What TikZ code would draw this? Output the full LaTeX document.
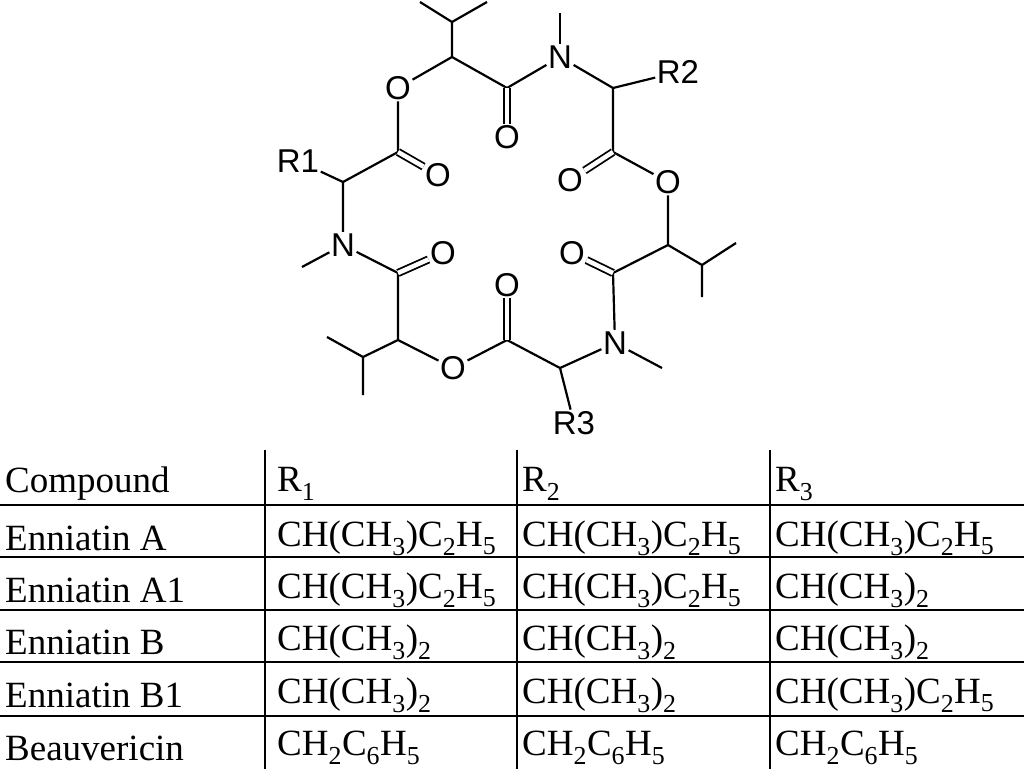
\documentclass[tikz,border=0pt]{standalone}
\usepackage{fontspec}
\setmainfont{Liberation Serif}
\newfontfamily\molfont{Liberation Sans}
\begin{document}
\begin{tikzpicture}[x=1pt,y=-1pt,
  atom/.style={font=\molfont\fontsize{33}{33}\selectfont,inner sep=1.5pt},
  bond/.style={line width=2.2pt},
  dbl/.style={line width=1.8pt,double,double distance=4.5pt},
  cell/.style={font=\fontsize{37}{37}\selectfont,anchor=west,inner sep=0pt},
  grid/.style={line width=1.3pt}]
\useasboundingbox (0,0) rectangle (1024,769);
% carbons
\coordinate (ca1) at (343,182);
\coordinate (ce1) at (398,152);
\coordinate (cat) at (452,57);
\coordinate (cit) at (452,22);
\coordinate (cam1) at (507,88);
\coordinate (ca2) at (613,88);
\coordinate (ce2) at (613,152);
\coordinate (car) at (668,245);
\coordinate (cir) at (702,265);
\coordinate (cam2) at (613,273);
\coordinate (ca3) at (560,368);
\coordinate (ce3) at (507,340);
\coordinate (cab) at (398,340);
\coordinate (cib) at (363,357);
\coordinate (cam3) at (398,273);
% methyl tips
\coordinate (m1) at (420,2);
\coordinate (m2) at (487,2);
\coordinate (m3) at (560,13);
\coordinate (m4) at (736,243);
\coordinate (m5) at (702,297);
\coordinate (m6) at (662,368);
\coordinate (m7) at (327,337);
\coordinate (m8) at (363,395);
\coordinate (m9) at (302,267);
% heteroatoms
\node[atom] (o1) at (398,88) {O};
\node[atom] (ok1) at (507,137) {O};
\node[atom] (n1) at (560,57) {N};
\node[atom] (r2) at (678,72) {R2};
\node[atom] (ok2) at (570,180) {O};
\node[atom] (o2) at (668,182) {O};
\node[atom] (ok3) at (572,253) {O};
\node[atom] (n2) at (615,343) {N};
\node[atom] (r3) at (574,423) {R3};
\node[atom] (ok4) at (507,285) {O};
\node[atom] (o3) at (453,368) {O};
\node[atom] (ok5) at (443,253) {O};
\node[atom] (n3) at (343,245) {N};
\node[atom] (r1) at (298,161) {R1};
\node[atom] (ok6) at (438,175) {O};
% ring bonds
\draw[bond] (ca1) -- (ce1) -- (o1) -- (cat) -- (cam1) -- (n1) -- (ca2) -- (ce2) -- (o2) -- (car) -- (cam2) -- (n2) -- (ca3) -- (ce3) -- (o3) -- (cab) -- (cam3) -- (n3) -- (ca1);
% substituents
\draw[bond] (cat) -- (cit) (m1) -- (cit) -- (m2);
\draw[bond] (n1) -- (m3);
\draw[bond] (ca2) -- (r2);
\draw[bond] (car) -- (cir) (m4) -- (cir) -- (m5);
\draw[bond] (n2) -- (m6);
\draw[bond] (ca3) -- (r3);
\draw[bond] (cab) -- (cib) (m7) -- (cib) -- (m8);
\draw[bond] (n3) -- (m9);
\draw[bond] (ca1) -- (r1);
% carbonyls
\draw[dbl] (cam1) -- (ok1);
\draw[dbl] (ce2) -- (ok2);
\draw[dbl] (cam2) -- (ok3);
\draw[dbl] (ce3) -- (ok4);
\draw[dbl] (cam3) -- (ok5);
\draw[dbl] (ce1) -- (ok6);
% table
\coordinate (v1t) at (265,450); \coordinate (v1b) at (265,769);
\coordinate (v2t) at (517,450); \coordinate (v2b) at (517,769);
\coordinate (v3t) at (770,450); \coordinate (v3b) at (770,769);
\draw[grid] (v1t) -- (v1b) (v2t) -- (v2b) (v3t) -- (v3b);
\foreach \y/\n in {505/a,557/b,610/c,662/d,716/e}{
  \coordinate (hl\n) at (0,\y); \coordinate (hr\n) at (1024,\y);
  \draw[grid] (hl\n) -- (hr\n);}
\node[cell] (h0) at (5,484) {Compound};
\node[cell] (h1) at (277,484) {R\textsubscript{1}};
\node[cell] (h2) at (522,484) {R\textsubscript{2}};
\node[cell] (h3) at (775,484) {R\textsubscript{3}};
\newcommand{\chA}{CH(CH\textsubscript{3})C\textsubscript{2}H\textsubscript{5}}
\newcommand{\chB}{CH(CH\textsubscript{3})\textsubscript{2}}
\newcommand{\chC}{CH\textsubscript{2}C\textsubscript{6}H\textsubscript{5}}
\node[cell] (a0) at (5,538) {Enniatin A};
\node[cell] (a1) at (277,538) {\chA};
\node[cell] (a2) at (522,538) {\chA};
\node[cell] (a3) at (775,538) {\chA};
\node[cell] (b0) at (5,590) {Enniatin A1};
\node[cell] (b1) at (277,590) {\chA};
\node[cell] (b2) at (522,590) {\chA};
\node[cell] (b3) at (775,590) {\chB};
\node[cell] (c0) at (5,642) {Enniatin B};
\node[cell] (c1) at (277,642) {\chB};
\node[cell] (c2) at (522,642) {\chB};
\node[cell] (c3) at (775,642) {\chB};
\node[cell] (d0) at (5,695) {Enniatin B1};
\node[cell] (d1) at (277,695) {\chB};
\node[cell] (d2) at (522,695) {\chB};
\node[cell] (d3) at (775,695) {\chA};
\node[cell] (e0) at (5,748) {Beauvericin};
\node[cell] (e1) at (277,748) {\chC};
\node[cell] (e2) at (522,748) {\chC};
\node[cell] (e3) at (775,748) {\chC};
\end{tikzpicture}
\end{document}
